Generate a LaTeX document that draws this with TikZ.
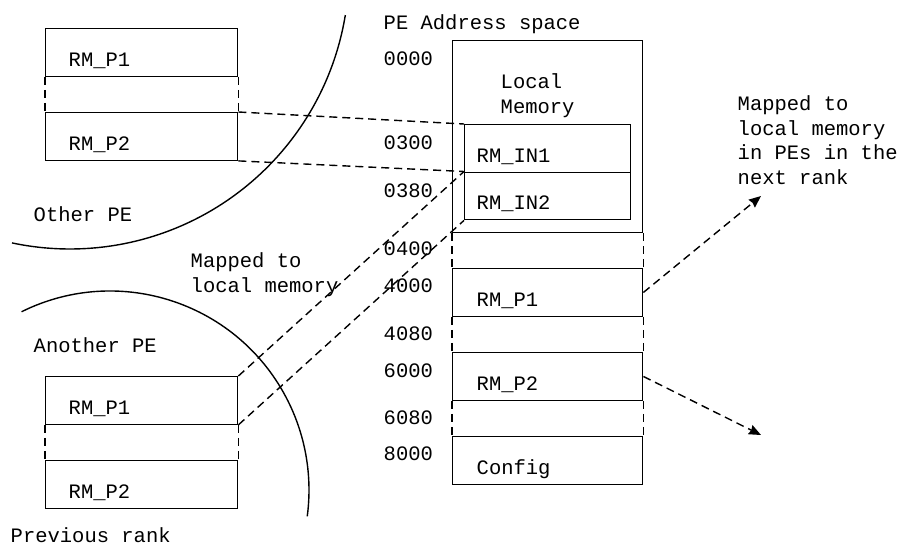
\documentclass[tikz,border=0pt]{standalone}
\usepackage{fontspec}
\setmainfont{Liberation Mono}
\usetikzlibrary{arrows.meta}
\tikzstyle{memblock} = [rectangle, draw=black, align=left, minimum height=23.75pt, inner ysep=0pt, text height=13.8pt, text depth=0pt]
\tikzstyle{leftblock} = [memblock, inner xsep=11.5pt, text width=73pt]
\tikzstyle{rightblock} = [memblock, inner xsep=12pt, text width=71pt]
\tikzstyle{inblock} = [memblock, inner xsep=6pt, text width=71pt]
\tikzstyle{txt} = [anchor=base west, inner sep=0pt, align=left]
\tikzstyle{mapline} = [dash pattern=on 4pt off 2.5pt]
\tikzstyle{arrow} = [mapline, ->, >={Stealth[length=6pt, width=5pt, inset=0.6pt]}]

\begin{document}
\begin{tikzpicture}[x=0.5pt, y=-0.5pt, node distance=42pt, line width=0.7pt,
  font=\fontsize{10.25}{12.25}\selectfont]
  \useasboundingbox (0,0) rectangle (909,546);
  % other PE
  \draw ([shift={(9.3:279)}]70,-30) arc[start angle=9.3, end angle=102, radius=279];
  \node (tp1)[leftblock, anchor=north west] at (45,28) {RM\_P1};
  \node (tp2)[leftblock, below of=tp1] {RM\_P2};
  \draw [mapline] (tp1.south west)--(tp2.north west) (tp1.south east)--(tp2.north east);
  \node (otherpe)[txt] at (33,221) {Other PE};
  % another PE in the previous rank
  \draw ([shift={(-116.4:199)}]110,490) arc[start angle=-116.4, end angle=7.6, radius=199];
  \node (anotherpe)[txt] at (33,352) {Another PE};
  \node (bp1)[leftblock, anchor=north west] at (45,376) {RM\_P1};
  \node (bp2)[leftblock, below of=bp1] {RM\_P2};
  \draw [mapline] (bp1.south west)--(bp2.north west) (bp1.south east)--(bp2.north east);
  \node (prevrank)[txt] at (10,542) {Previous rank};
  \node (mapped)[txt] at (190,292) {Mapped to\\local memory};
  % PE address space
  \node (title)[txt] at (383,29) {PE Address space};
  \node (lm)[rectangle, draw=black, anchor=north west, minimum width=95pt, minimum height=96pt] at (452,40) {};
  \node (lmlabel)[txt] at (500,113) {Local\\Memory};
  \node (in1)[inblock, anchor=north west] at (464,124) {RM\_IN1};
  \node (in2)[inblock, below of=in1, node distance=23.75pt] {RM\_IN2};
  \node (rp1)[rightblock, anchor=north west] at (452,268) {RM\_P1};
  \node (rp2)[rightblock, below of=rp1] {RM\_P2};
  \node (cfg)[rightblock, below of=rp2] {Config};
  \draw [mapline] (lm.south west)--(rp1.north west) (lm.south east)--(rp1.north east);
  \draw [mapline] (rp1.south west)--(rp2.north west) (rp1.south east)--(rp2.north east);
  \draw [mapline] (rp2.south west)--(cfg.north west) (rp2.south east)--(cfg.north east);
  % addresses
  \foreach \addr/\y in {0000/65, 0300/149, 0380/197, 0400/255, 4000/292, 4080/340, 6000/377, 6080/424, 8000/460}
    \node (a\addr)[txt] at (383,\y) {\addr};
  % mappings
  \draw [mapline] (tp2.north east)--(in1.north west);
  \draw [mapline] (tp2.south east)--(in2.north west);
  \draw [mapline] (bp1.north east)--(in2.north west);
  \draw [mapline] (bp1.south east)--(in2.south west);
  \node (nextrank)[txt] at (737,184) {Mapped to\\local memory\\in PEs in the\\next rank};
  \coordinate (nx1) at (761,196);
  \coordinate (nx2) at (761,435);
  \draw [arrow] (rp1.east)--(nx1);
  \draw [arrow] (rp2.east)--(nx2);
\end{tikzpicture}
\end{document}
